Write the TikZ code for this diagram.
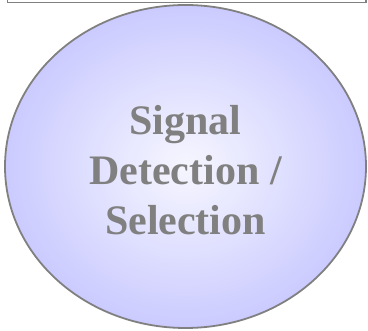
\documentclass[tikz,border=0pt]{standalone}
\usepackage{fontspec}
\setmainfont{Liberation Serif}
\definecolor{edgegray}{RGB}{128,128,128}
\definecolor{textgray}{RGB}{128,128,128}
\definecolor{blobin}{RGB}{246,246,255}
\definecolor{blobout}{RGB}{158,158,255}
\pgfdeclareradialshading{blobshade}{\pgfpoint{0bp}{0bp}}{%
  color(0bp)=(blobin);
  color(8bp)=(blobin!85!blobout);
  color(50bp)=(blobout);
  color(100bp)=(blobout)}
\tikzset{
  frameline/.style={draw=edgegray, line width=1.8pt},
  blob/.style={ellipse, draw=edgegray, line width=1.8pt, shading=blobshade,
    minimum width=361pt, minimum height=323pt, inner sep=0pt},
  blobtext/.style={font=\bfseries\fontsize{42pt}{50pt}\selectfont,
    text=textgray, align=center}
}
\usetikzlibrary{shapes.geometric}
\begin{document}
\begin{tikzpicture}[x=1pt,y=-1pt]
  \useasboundingbox (0,0) rectangle (368,331);
  % frame edge above the ellipse
  \coordinate (fl) at (7.5,-5);
  \coordinate (fr) at (366,-5);
  \draw[frameline] (fl) |- (366,2.5) -- (fr);
  % shaded ellipse
  \node[blob] (sig) at (185.5,166.5) {};
  \node[blobtext] (lbl) at (185.5,170) {Signal\\Detection /\\Selection};
\end{tikzpicture}
\end{document}
